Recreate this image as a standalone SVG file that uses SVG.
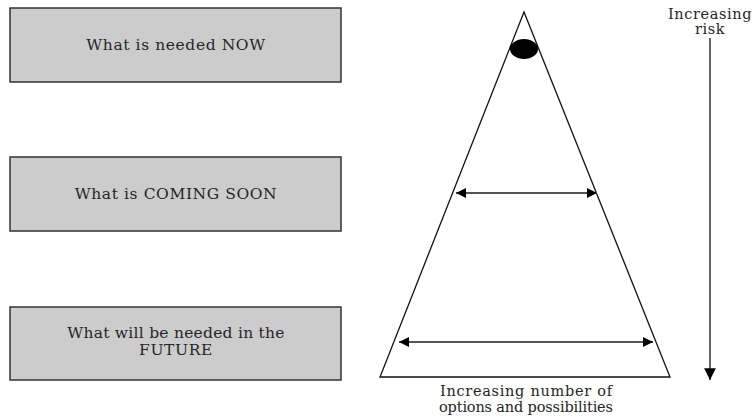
<svg xmlns="http://www.w3.org/2000/svg" width="754" height="419" viewBox="0 0 754 419">
<defs>
<style>
.box{fill:#cccccc;stroke:#333333;stroke-width:1.5}
.t{font-family:"DejaVu Serif","Liberation Serif",serif;font-size:15.5px;letter-spacing:0.6px;fill:#262626;text-anchor:middle}
.s{font-size:14.5px}
.b{letter-spacing:0}
.ln{stroke:#111111;stroke-width:1.3;fill:none}
.dbl{stroke:#555555;stroke-width:2;fill:none;marker-start:url(#ah);marker-end:url(#ah)}
</style>
<marker id="ah" viewBox="0 0 10 10" refX="10" refY="5" markerWidth="6" markerHeight="5" markerUnits="strokeWidth" orient="auto-start-reverse">
<path d="M0,0 L10,5 L0,10 Z" fill="#000000"/>
</marker>
<marker id="ah2" viewBox="0 0 10 10" refX="10" refY="5" markerWidth="11" markerHeight="9" markerUnits="strokeWidth" orient="auto">
<path d="M0,0 L10,5 L0,10 Z" fill="#000000"/>
</marker>
</defs>
<rect width="754" height="419" fill="#ffffff"/>
<g id="now">
<rect class="box" x="10" y="8" width="331" height="74"/>
<text class="t" x="176" y="50">What is needed NOW</text>
</g>
<g id="soon">
<rect class="box" x="10" y="157" width="331" height="74"/>
<text class="t" x="176" y="199">What is COMING SOON</text>
</g>
<g id="future">
<rect class="box" x="10" y="307" width="331" height="73"/>
<text class="t" x="176" y="338" style="letter-spacing:0.25px">What will be needed in the</text>
<text class="t" x="176" y="355">FUTURE</text>
</g>
<g id="triangle">
<path class="ln" d="M524,12 L670,377 L380,377 Z"/>
<ellipse cx="524" cy="49" rx="14" ry="10" fill="#000000"/>
<text class="t s b" x="526" y="396" textLength="172" lengthAdjust="spacing">Increasing number of</text>
<text class="t s b" x="526" y="412" textLength="174" lengthAdjust="spacing">options and possibilities</text>
</g>
<g id="risk">
<text class="t s" x="710" y="19">Increasing</text>
<text class="t s" x="710" y="34">risk</text>
</g>
<g id="connectors">
<line class="dbl" x1="456" y1="193" x2="597" y2="193"/>
<line class="dbl" x1="399" y1="342" x2="653" y2="342"/>
<line x1="710" y1="38" x2="710" y2="380" stroke="#111111" stroke-width="1.3" marker-end="url(#ah2)"/>
</g>
</svg>
